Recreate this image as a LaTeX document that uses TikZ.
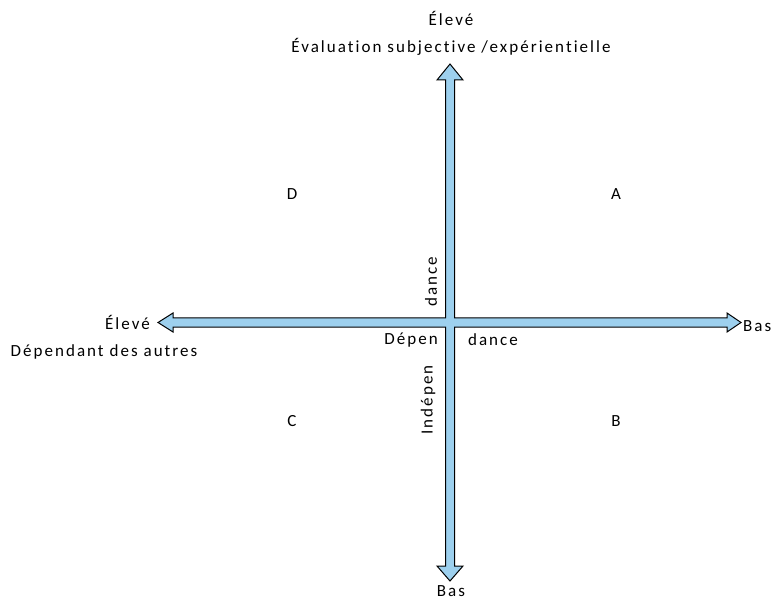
\documentclass[tikz,border=0pt]{standalone}
\usepackage{fontspec}
\setmainfont{Carlito}[LetterSpace=12, Ligatures={NoCommon}]
\usetikzlibrary{positioning, calc}

\definecolor{bleuaxe}{RGB}{157,208,238}

\begin{document}
\begin{tikzpicture}[x=1pt, y=-1pt, font=\fontsize{17}{20}\selectfont]

%====Styles=================================================================
	\tikzstyle{axe}=[draw=black, fill=bleuaxe, line width=1pt, line join=miter]
	\tikzstyle{quadrant}=[inner sep=0pt, text=black]
	\tikzstyle{etiquette}=[inner sep=1pt, text=black]

	\useasboundingbox (0,0) rectangle (781,601);

%====Points de l'axe========================================================
	\coordinate (centre) at (450,322.5);
	\coordinate (haut)   at (450,64);
	\coordinate (bas)    at (450,581);
	\coordinate (gauche) at (158,322.5);
	\coordinate (droite) at (741,322.5);

%====Croix a quatre fleches==================================================
	\draw[axe] (haut) -- ++(13,16) -- ++(-8.5,0) |- ($(droite)+(-14,-4.5)$)
		-- ++(0,-5) -- (droite) -- ++(-14,9.5) -- ++(0,-5) -| ($(bas)+(4.5,-15)$)
		-- ++(8.5,0) -- (bas) -- ++(-13,-15) -- ++(8.5,0) |- ($(gauche)+(15,4.5)$)
		-- ++(0,5) -- (gauche) -- ++(15,-9.5) -- ++(0,5) -| ($(haut)+(-4.5,16)$)
		-- ++(-8.5,0) -- cycle;

%====Textes des axes========================================================
	\node[etiquette] (eleveH) at (451,18)  {Élevé};
	\node[etiquette] (evalH)  at (451,47)  {Évaluation subjective /expérientielle};
	\node[etiquette] (basB)   at (451,591) {Bas};
	\node[etiquette, anchor=west] (basD) at (742,326) {Bas};
	\node[etiquette, anchor=east] (eleveG) at (151,322) {Élevé};
	\node[etiquette] (depG)   at (104,352) {Dépendant des autres};

%====Quadrants==============================================================
	\node[quadrant] (qD) at (292,194) {D};
	\node[quadrant] (qA) at (616,194) {A};
	\node[quadrant] (qC) at (292,421) {C};
	\node[quadrant] (qB) at (616,421) {B};

%====Libelles au centre=====================================================
	\node[etiquette, rotate=90] (danceV) at (431,282) {dance};
	\node[etiquette, rotate=90] (indep)  at (428,400) {Indépen};
	\node[etiquette] (depen)  at (411,340) {Dépen};
	\node[etiquette] (danceH) at (493,340) {dance};

\end{tikzpicture}
\end{document}
